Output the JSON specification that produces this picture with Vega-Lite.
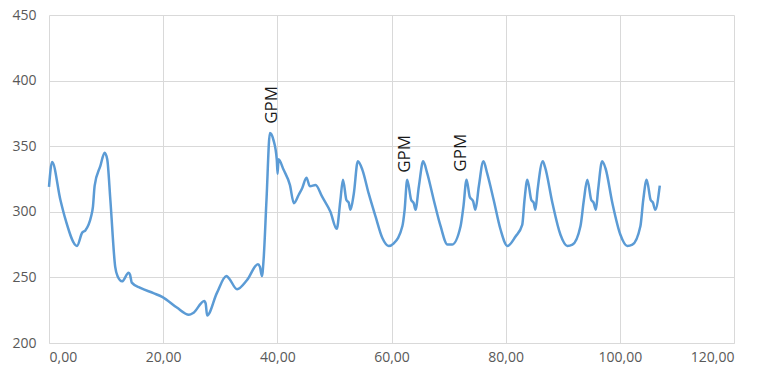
{
  "$schema": "https://vega.github.io/schema/vega-lite/v6.json",
  "autosize": {"type": "none"},
  "width": 685,
  "height": 328,
  "padding": {"left": 49, "top": 15, "right": 40, "bottom": 37},
  "background": "white",
  "config": {
    "view": {"stroke": null},
    "font": "Open Sans"
  },
  "datasets": {
    "series": [
      {"x": 0, "y": 319},
      {"x": 0.55, "y": 338},
      {"x": 2.0, "y": 309},
      {"x": 2.9, "y": 294},
      {"x": 4.9, "y": 274},
      {"x": 5.8, "y": 284},
      {"x": 6.4, "y": 286},
      {"x": 7.35, "y": 296},
      {"x": 7.7, "y": 304},
      {"x": 8.0, "y": 320},
      {"x": 9.0, "y": 335},
      {"x": 9.75, "y": 345},
      {"x": 10.2, "y": 340},
      {"x": 10.75, "y": 309},
      {"x": 11.6, "y": 258},
      {"x": 12.0, "y": 251},
      {"x": 12.8, "y": 247},
      {"x": 13.95, "y": 253.5},
      {"x": 14.2, "y": 252},
      {"x": 14.5, "y": 246},
      {"x": 16.0, "y": 242},
      {"x": 18.3, "y": 238},
      {"x": 19.9, "y": 235},
      {"x": 22.4, "y": 227},
      {"x": 24.5, "y": 221.5},
      {"x": 25.3, "y": 223},
      {"x": 27.2, "y": 232},
      {"x": 27.45, "y": 230},
      {"x": 27.7, "y": 221},
      {"x": 29.4, "y": 238},
      {"x": 31.1, "y": 251},
      {"x": 31.5, "y": 249.5},
      {"x": 32.95, "y": 241},
      {"x": 34.7, "y": 248},
      {"x": 36.6, "y": 260},
      {"x": 36.95, "y": 258},
      {"x": 37.3, "y": 251},
      {"x": 37.6, "y": 264},
      {"x": 38.1, "y": 309},
      {"x": 38.7, "y": 360},
      {"x": 39.3, "y": 355},
      {"x": 39.9, "y": 340},
      {"x": 40.05, "y": 329},
      {"x": 40.2, "y": 340},
      {"x": 41.1, "y": 332},
      {"x": 42.2, "y": 320.5},
      {"x": 42.9, "y": 306.5},
      {"x": 43.75, "y": 313},
      {"x": 44.35, "y": 318},
      {"x": 45.1, "y": 326},
      {"x": 45.7, "y": 319.5},
      {"x": 46.7, "y": 320.5},
      {"x": 47.85, "y": 311.5},
      {"x": 49.3, "y": 300},
      {"x": 50.4, "y": 287},
      {"x": 51.05, "y": 309},
      {"x": 51.5, "y": 324.5},
      {"x": 52.1, "y": 309},
      {"x": 52.5, "y": 307},
      {"x": 52.8, "y": 301.5},
      {"x": 53.4, "y": 314},
      {"x": 54.1, "y": 338.5},
      {"x": 54.9, "y": 332},
      {"x": 56.0, "y": 314},
      {"x": 57.2, "y": 296.5},
      {"x": 58.4, "y": 280},
      {"x": 59.5, "y": 274},
      {"x": 60.4, "y": 276},
      {"x": 61.9, "y": 289},
      {"x": 62.3, "y": 301.5},
      {"x": 62.75, "y": 324.5},
      {"x": 63.45, "y": 309},
      {"x": 63.9, "y": 306.5},
      {"x": 64.2, "y": 301.5},
      {"x": 64.8, "y": 319.5},
      {"x": 65.55, "y": 338.5},
      {"x": 66.25, "y": 329.5},
      {"x": 67.4, "y": 309},
      {"x": 68.6, "y": 289},
      {"x": 69.8, "y": 275},
      {"x": 70.6, "y": 275},
      {"x": 72.1, "y": 289},
      {"x": 72.6, "y": 304},
      {"x": 73.15, "y": 324.5},
      {"x": 73.7, "y": 311.5},
      {"x": 74.3, "y": 308},
      {"x": 74.7, "y": 301.5},
      {"x": 75.3, "y": 319.5},
      {"x": 76.1, "y": 338.5},
      {"x": 76.75, "y": 329.5},
      {"x": 77.9, "y": 309},
      {"x": 79.1, "y": 286.5},
      {"x": 80.3, "y": 274},
      {"x": 81.7, "y": 281},
      {"x": 82.9, "y": 290},
      {"x": 83.3, "y": 309},
      {"x": 83.8, "y": 324.5},
      {"x": 84.5, "y": 309},
      {"x": 84.9, "y": 307},
      {"x": 85.2, "y": 301.5},
      {"x": 85.6, "y": 317},
      {"x": 86.5, "y": 338.5},
      {"x": 86.9, "y": 334},
      {"x": 88.2, "y": 306.5},
      {"x": 89.6, "y": 282.5},
      {"x": 90.8, "y": 274},
      {"x": 91.7, "y": 275},
      {"x": 93.1, "y": 289},
      {"x": 93.7, "y": 309},
      {"x": 94.3, "y": 324.5},
      {"x": 95.0, "y": 309},
      {"x": 95.4, "y": 307},
      {"x": 95.8, "y": 301.5},
      {"x": 96.2, "y": 317},
      {"x": 96.9, "y": 338.5},
      {"x": 97.5, "y": 333},
      {"x": 98.7, "y": 306.5},
      {"x": 100.1, "y": 282.5},
      {"x": 101.3, "y": 274},
      {"x": 102.2, "y": 275},
      {"x": 103.6, "y": 289},
      {"x": 104.1, "y": 309},
      {"x": 104.7, "y": 324.5},
      {"x": 105.4, "y": 309},
      {"x": 105.8, "y": 307},
      {"x": 106.2, "y": 301.5},
      {"x": 107.0, "y": 320}
    ],
    "labels": [
      {"x": 39.05, "y": 381.5, "text": "GPM"},
      {"x": 62.3, "y": 344.2, "text": "GPM"},
      {"x": 72.2, "y": 345, "text": "GPM"}
    ]
  },
  "layer": [
    {
      "data": {"name": "series"},
      "mark": {"type": "line", "color": "#5B9BD5", "strokeWidth": 2.5, "interpolate": "monotone"},
      "encoding": {
        "x": {
          "field": "x", "type": "quantitative",
          "scale": {"domain": [0, 120], "nice": false, "zero": false},
          "axis": {
            "title": null, "values": [0, 20, 40, 60, 80, 100, 120],
            "labelExpr": "replace(format(datum.value, '.2f'), '.', ',')",
            "grid": true, "gridColor": "#d9d9d9", "gridWidth": 1,
            "domain": true, "domainColor": "#d9d9d9", "ticks": false,
            "labelColor": "#595959", "labelFontSize": 14, "labelPadding": 7,
            "labelFont": "Open Sans"
          }
        },
        "y": {
          "field": "y", "type": "quantitative",
          "scale": {"domain": [200, 450], "nice": false, "zero": false},
          "axis": {
            "title": null, "values": [200, 250, 300, 350, 400, 450],
            "grid": true, "gridColor": "#d9d9d9", "gridWidth": 1,
            "domain": false, "ticks": false,
            "labelColor": "#595959", "labelFontSize": 14, "labelPadding": 13,
            "labelFont": "Open Sans"
          }
        }
      }
    },
    {
      "data": {"name": "labels"},
      "mark": {"type": "text", "angle": 270, "fontSize": 17, "color": "#1a1a1a", "font": "Open Sans", "align": "center", "baseline": "middle"},
      "encoding": {
        "x": {"field": "x", "type": "quantitative"},
        "y": {"field": "y", "type": "quantitative"},
        "text": {"field": "text"}
      }
    }
  ]
}
